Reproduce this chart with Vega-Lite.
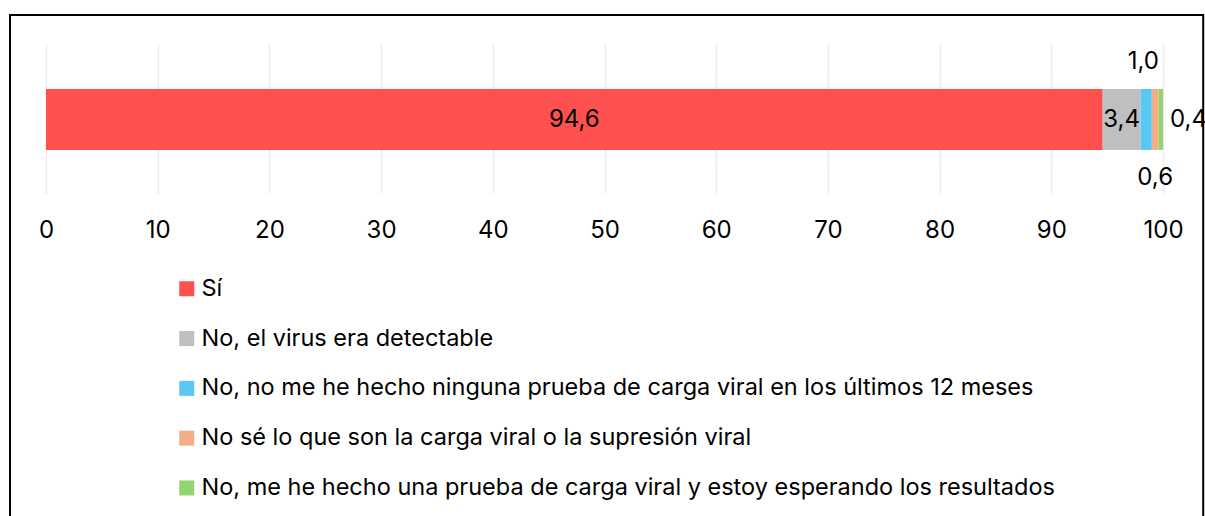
{
  "$schema": "https://vega.github.io/schema/vega-lite/v6.json",
  "width": 1117,
  "height": 149,
  "autosize": {"type": "none"},
  "padding": {"left": 46, "top": 44, "right": 42, "bottom": 323},
  "background": "white",
  "config": {
    "view": {"stroke": null},
    "font": "Inter"
  },
  "layer": [
    {
      "data": {"values": [{"frame": 1}]},
      "mark": {"type": "rect", "filled": false, "stroke": "black", "strokeWidth": 2},
      "encoding": {
        "x": {"datum": -3.22, "type": "quantitative", "scale": {"domain": [0, 100], "nice": false, "zero": false}},
        "x2": {"datum": 103.6},
        "y": {"datum": 1.195, "type": "quantitative", "scale": {"domain": [0, 1], "nice": false, "zero": false}},
        "y2": {"datum": -2.6}
      }
    },
    {
      "data": {
        "values": [
          {"cat": "Sí", "value": 94.6, "order": 1},
          {"cat": "No, el virus era detectable", "value": 3.4, "order": 2},
          {"cat": "No, no me he hecho ninguna prueba de carga viral en los últimos 12 meses", "value": 1.0, "order": 3},
          {"cat": "No sé lo que son la carga viral o la supresión viral", "value": 0.6, "order": 4},
          {"cat": "No, me he hecho una prueba de carga viral y estoy esperando los resultados", "value": 0.4, "order": 5}
        ]
      },
      "transform": [
        {"stack": "value", "groupby": [], "sort": [{"field": "order", "order": "ascending"}], "as": ["x0", "x1"]},
        {"calculate": "(datum.x0 + datum.x1) / 2", "as": "mid"},
        {"calculate": "replace(format(datum.value, '.1f'), '.', ',')", "as": "label"}
      ],
      "layer": [
        {
          "mark": {"type": "bar"},
          "encoding": {
            "x": {
              "field": "x0", "type": "quantitative",
              "scale": {"domain": [0, 100], "nice": false, "zero": false},
              "axis": {
                "title": null, "values": [0, 10, 20, 30, 40, 50, 60, 70, 80, 90, 100],
                "grid": true, "gridColor": "#EBEBEB", "gridWidth": 1.5,
                "ticks": false, "domain": false, "labelFlush": false, "labelOverlap": false,
                "labelFontSize": 24, "labelColor": "black", "labelPadding": 25,
                "labelFont": "Inter", "format": "d"
              }
            },
            "x2": {"field": "x1"},
            "y": {"datum": 0.289, "type": "quantitative", "scale": {"domain": [0, 1], "nice": false, "zero": false}, "axis": null},
            "y2": {"datum": 0.698},
            "color": {
              "field": "cat", "type": "nominal",
              "scale": {
                "domain": [
                  "Sí",
                  "No, el virus era detectable",
                  "No, no me he hecho ninguna prueba de carga viral en los últimos 12 meses",
                  "No sé lo que son la carga viral o la supresión viral",
                  "No, me he hecho una prueba de carga viral y estoy esperando los resultados"
                ],
                "range": ["#FF5050", "#BFBFBF", "#5BC8F4", "#F4AE85", "#92D46E"]
              },
              "legend": {
                "orient": "none", "legendX": 129, "legendY": 233,
                "direction": "vertical", "title": null,
                "symbolType": "square", "symbolSize": 225, "symbolStrokeWidth": 0,
                "labelFontSize": 23.5, "labelColor": "black", "labelFont": "Inter",
                "rowPadding": 24.8, "labelOffset": 3, "labelLimit": 1000
              }
            }
          }
        },
        {
          "transform": [{"filter": "datum.order <= 2"}],
          "mark": {"type": "text", "fontSize": 24, "color": "black", "align": "center", "baseline": "middle"},
          "encoding": {
            "x": {"field": "mid", "type": "quantitative"},
            "y": {"datum": 0.493, "type": "quantitative"},
            "text": {"field": "label", "type": "nominal"}
          }
        },
        {
          "transform": [{"filter": "datum.order == 3"}],
          "mark": {"type": "text", "fontSize": 24, "color": "black", "align": "center", "baseline": "middle", "dx": -3},
          "encoding": {
            "x": {"field": "mid", "type": "quantitative"},
            "y": {"datum": 0.879, "type": "quantitative"},
            "text": {"field": "label", "type": "nominal"}
          }
        },
        {
          "transform": [{"filter": "datum.order == 4"}],
          "mark": {"type": "text", "fontSize": 24, "color": "black", "align": "center", "baseline": "middle"},
          "encoding": {
            "x": {"field": "mid", "type": "quantitative"},
            "y": {"datum": 0.1, "type": "quantitative"},
            "text": {"field": "label", "type": "nominal"}
          }
        },
        {
          "transform": [{"filter": "datum.order == 5"}],
          "mark": {"type": "text", "fontSize": 24, "color": "black", "align": "left", "baseline": "middle", "dx": 7},
          "encoding": {
            "x": {"field": "x1", "type": "quantitative"},
            "y": {"datum": 0.493, "type": "quantitative"},
            "text": {"field": "label", "type": "nominal"}
          }
        }
      ]
    }
  ]
}
